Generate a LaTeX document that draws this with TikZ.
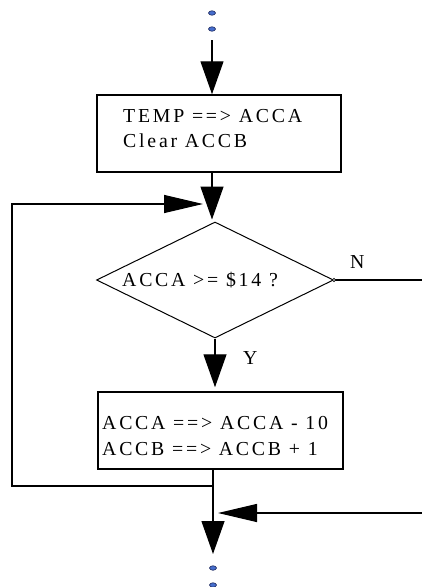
\documentclass[tikz,border=0pt]{standalone}
\usepackage{fontspec}
\setmainfont{Liberation Serif}[LetterSpace=14]
\usetikzlibrary{arrows.meta,shapes.geometric}
\definecolor{dotblue}{RGB}{70,110,205}
\definecolor{dotedge}{RGB}{30,40,90}
\begin{document}
\begin{tikzpicture}[x=1pt,y=-1pt,
  line/.style={line width=1.3pt},
  bigv/.style={-{Triangle[length=33pt,width=23pt]}},
  bigh/.style={-{Triangle[length=39pt,width=18pt]}},
  box/.style={draw,line width=1.5pt,minimum width=244pt,minimum height=77pt,inner sep=0pt},
  txt/.style={anchor=base west,inner sep=0pt,font=\fontsize{19.8pt}{22pt}\selectfont},
  dotn/.style={ellipse,draw=dotedge,fill=dotblue,line width=0.6pt,minimum width=7pt,minimum height=4.5pt,inner sep=0pt},
  decision/.style={diamond,draw,line width=1pt,minimum width=237pt,minimum height=116pt,inner sep=0pt}]
\useasboundingbox (0,0) rectangle (422,587);
% top dots
\node[dotn] (d1) at (212,13) {};
\node[dotn] (d2) at (212,29) {};
% boxes and decision
\node[box] (b1) at (219,133.5) {};
\node[decision] (dm) at (215,280) {};
\node[box,minimum width=245pt] (b2) at (220.5,430.5) {};
% texts
\node[txt] (t1) at (123,122) {TEMP ==> ACCA};
\node[txt] (t2) at (123,147) {Clear ACCB};
\node[txt] (t3) at (122,286) {ACCA >= \$14 ?};
\node[txt] (t4) at (102,429) {ACCA ==> ACCA - 10};
\node[txt] (t5) at (102,455) {ACCB ==> ACCB + 1};
\node[txt] (lN) at (350,268) {N};
\node[txt] (lY) at (243,364) {Y};
% coordinates
\coordinate (s1) at (212,40);
\coordinate (j1) at (213,486);
\coordinate (lc1) at (12,486);
\coordinate (lc2) at (12,204);
\coordinate (lend) at (203,204);
\coordinate (r1) at (422,513);
\coordinate (rend) at (218,513);
\coordinate (nend) at (422,281);
\coordinate (e) at (213,554);
% connectors
\draw[line,bigv] (s1) -- (s1 |- b1.north);
\draw[line,bigv] (b1.south -| s1) -- ([yshift=2pt]dm.north -| s1);
\draw[line,bigv] (dm.south) -- ([yshift=4pt]b2.north -| dm.south);
\draw[line] (b2.south -| j1) -- (j1);
\draw[line,bigv] (j1) -- (e);
\draw[line,bigh] (j1) -- (lc1) -- (lc2) -- (lend);
\draw[line,bigh] (r1) -- (rend);
\draw[line] (dm.east) -- (nend |- dm.east);
\draw[line width=0.6pt,fill=white] (dm.east) circle (1.6pt);
% bottom dots
\node[dotn] (d3) at (213,568) {};
\node[dotn] (d4) at (213,585) {};
\end{tikzpicture}
\end{document}
